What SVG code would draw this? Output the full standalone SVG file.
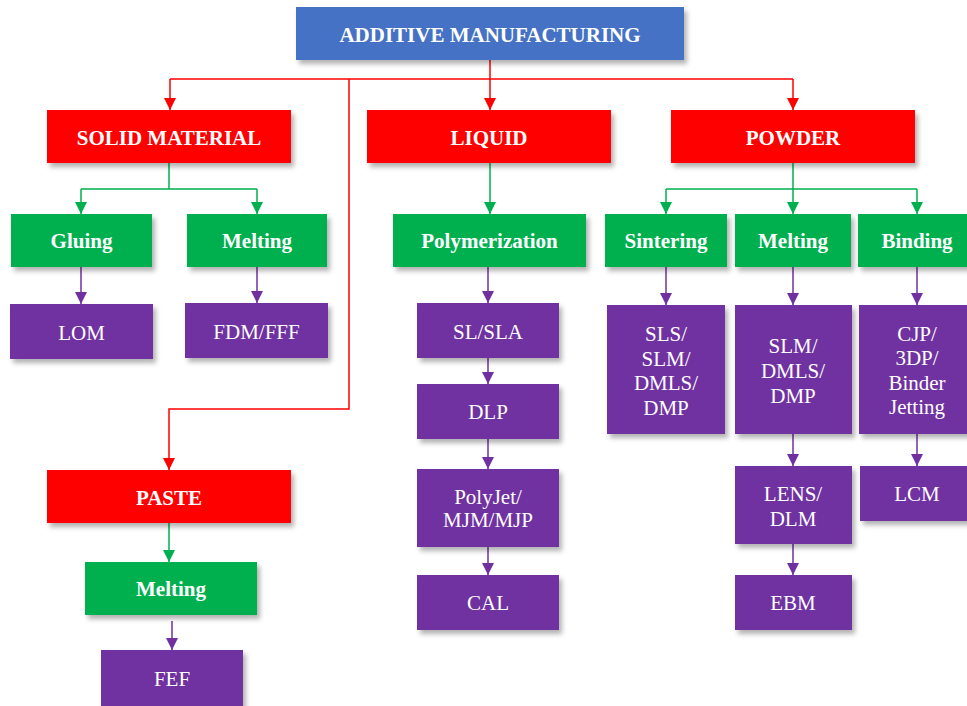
<svg xmlns="http://www.w3.org/2000/svg" width="967" height="706" viewBox="0 0 967 706">
<defs>
<filter id="sh" x="-10%" y="-10%" width="130%" height="140%">
<feDropShadow dx="3" dy="4" stdDeviation="2.5" flood-color="#000" flood-opacity="0.3"/>
</filter>
<marker id="ar" markerUnits="userSpaceOnUse" markerWidth="12" markerHeight="12" refX="12" refY="6" orient="auto" viewBox="0 0 12 12"><path d="M0,0 L12,6 L0,12 z" fill="#FF0000"/></marker>
<marker id="ag" markerUnits="userSpaceOnUse" markerWidth="12" markerHeight="12" refX="12" refY="6" orient="auto" viewBox="0 0 12 12"><path d="M0,0 L12,6 L0,12 z" fill="#00B050"/></marker>
<marker id="ap" markerUnits="userSpaceOnUse" markerWidth="12" markerHeight="12" refX="12" refY="6" orient="auto" viewBox="0 0 12 12"><path d="M0,0 L12,6 L0,12 z" fill="#7030A0"/></marker>
</defs>
<style>
.box{filter:url(#sh);}
.blue{fill:#4472C4;}
.red{fill:#FF0000;}
.green{fill:#00B050;}
.purple{fill:#7030A0;}
.tb{font-family:"Liberation Serif","Times New Roman",serif;font-weight:bold;font-size:21px;fill:#fff;text-anchor:middle;}
.tr{font-family:"Liberation Serif","Times New Roman",serif;font-size:21px;fill:#fff;text-anchor:middle;}
.cr{stroke:#FF0000;stroke-width:1.5;fill:none;}
.cg{stroke:#00B050;stroke-width:1.5;fill:none;}
.cp{stroke:#7030A0;stroke-width:1.5;fill:none;}
</style>
<rect width="967" height="706" fill="#fff"/>
<g id="connectors">
<path class="cr" d="M490,60 V79" stroke-width="3"/>
<path class="cr" d="M490,79 V110" stroke-width="3" marker-end="url(#ar)"/>
<path class="cr" d="M170,79 H793"/>
<path class="cr" d="M170,79 V110" marker-end="url(#ar)"/>
<path class="cr" d="M793,79 V110" marker-end="url(#ar)"/>
<path class="cr" d="M349,79 V409 H169 V470" marker-end="url(#ar)"/>
<path class="cg" d="M169,163 V189 M81,189 H257"/>
<path class="cg" d="M81,189 V214" marker-end="url(#ag)"/>
<path class="cg" d="M257,189 V214" marker-end="url(#ag)"/>
<path class="cg" d="M490,163 V214" marker-end="url(#ag)"/>
<path class="cg" d="M666,189 H917"/>
<path class="cg" d="M793,163 V214" marker-end="url(#ag)"/>
<path class="cg" d="M666,189 V214" marker-end="url(#ag)"/>
<path class="cg" d="M917,189 V214" marker-end="url(#ag)"/>
<path class="cg" d="M169,523 V562" marker-end="url(#ag)"/>
<path class="cp" d="M81,267 V304" marker-end="url(#ap)"/>
<path class="cp" d="M257,267 V303" marker-end="url(#ap)"/>
<path class="cp" d="M488,267 V303" marker-end="url(#ap)"/>
<path class="cp" d="M488,358 V384" marker-end="url(#ap)"/>
<path class="cp" d="M488,439 V469" marker-end="url(#ap)"/>
<path class="cp" d="M488,547 V575" marker-end="url(#ap)"/>
<path class="cp" d="M666,267 V305" marker-end="url(#ap)"/>
<path class="cp" d="M793,267 V305" marker-end="url(#ap)"/>
<path class="cp" d="M917,267 V305" marker-end="url(#ap)"/>
<path class="cp" d="M793,434 V466" marker-end="url(#ap)"/>
<path class="cp" d="M917,434 V466" marker-end="url(#ap)"/>
<path class="cp" d="M793,544 V575" marker-end="url(#ap)"/>
<path class="cp" d="M172,621 V650" marker-end="url(#ap)"/>
</g>
<g id="am"><rect class="box blue" x="296" y="7" width="388" height="53"/><text class="tb" x="490" y="42">ADDITIVE MANUFACTURING</text></g>
<g id="solid"><rect class="box red" x="47" y="110" width="244" height="53"/><text class="tb" x="169" y="145">SOLID MATERIAL</text></g>
<g id="liquid"><rect class="box red" x="367" y="110" width="244" height="53"/><text class="tb" x="489" y="145">LIQUID</text></g>
<g id="powder"><rect class="box red" x="671" y="110" width="244" height="53"/><text class="tb" x="793" y="145">POWDER</text></g>
<g id="gluing"><rect class="box green" x="11" y="214" width="141" height="53"/><text class="tb" x="81.5" y="248">Gluing</text></g>
<g id="melting1"><rect class="box green" x="187" y="214" width="140" height="53"/><text class="tb" x="257" y="248">Melting</text></g>
<g id="polymerization"><rect class="box green" x="393" y="214" width="193" height="53"/><text class="tb" x="489.5" y="248">Polymerization</text></g>
<g id="sintering"><rect class="box green" x="605" y="214" width="122" height="53"/><text class="tb" x="666" y="248">Sintering</text></g>
<g id="melting2"><rect class="box green" x="735" y="214" width="116" height="53"/><text class="tb" x="793" y="248">Melting</text></g>
<g id="binding"><rect class="box green" x="858" y="214" width="118" height="53"/><text class="tb" x="917" y="248">Binding</text></g>
<g id="lom"><rect class="box purple" x="10" y="304" width="143" height="55"/><text class="tr" x="81.5" y="340">LOM</text></g>
<g id="fdm"><rect class="box purple" x="185" y="303" width="143" height="55"/><text class="tr" x="256.5" y="339">FDM/FFF</text></g>
<g id="sla"><rect class="box purple" x="417" y="303" width="142" height="55"/><text class="tr" x="488" y="339">SL/SLA</text></g>
<g id="dlp"><rect class="box purple" x="417" y="384" width="142" height="55"/><text class="tr" x="488" y="419">DLP</text></g>
<g id="polyjet"><rect class="box purple" x="417" y="469" width="142" height="78"/><text class="tr" x="488" y="504">PolyJet/</text><text class="tr" x="488" y="527">MJM/MJP</text></g>
<g id="cal"><rect class="box purple" x="417" y="575" width="142" height="55"/><text class="tr" x="488" y="610">CAL</text></g>
<g id="sls"><rect class="box purple" x="607" y="305" width="118" height="129"/><text class="tr" x="666" y="341">SLS/</text><text class="tr" x="666" y="366">SLM/</text><text class="tr" x="666" y="390">DMLS/</text><text class="tr" x="666" y="415">DMP</text></g>
<g id="slm"><rect class="box purple" x="735" y="305" width="117" height="129"/><text class="tr" x="793" y="353">SLM/</text><text class="tr" x="793" y="378">DMLS/</text><text class="tr" x="793" y="403">DMP</text></g>
<g id="cjp"><rect class="box purple" x="859" y="305" width="117" height="129"/><text class="tr" x="917" y="341">CJP/</text><text class="tr" x="917" y="365">3DP/</text><text class="tr" x="917" y="390">Binder</text><text class="tr" x="917" y="414">Jetting</text></g>
<g id="lens"><rect class="box purple" x="735" y="466" width="117" height="78"/><text class="tr" x="793" y="501">LENS/</text><text class="tr" x="793" y="526">DLM</text></g>
<g id="lcm"><rect class="box purple" x="860" y="466" width="116" height="55"/><text class="tr" x="917" y="501">LCM</text></g>
<g id="ebm"><rect class="box purple" x="735" y="575" width="117" height="55"/><text class="tr" x="793" y="610">EBM</text></g>
<g id="paste"><rect class="box red" x="47" y="470" width="244" height="53"/><text class="tb" x="169" y="505">PASTE</text></g>
<g id="melting3"><rect class="box green" x="85" y="562" width="172" height="53"/><text class="tb" x="171" y="596">Melting</text></g>
<g id="fef"><rect class="box purple" x="101" y="650" width="142" height="60"/><text class="tr" x="172" y="686">FEF</text></g>
</svg>
